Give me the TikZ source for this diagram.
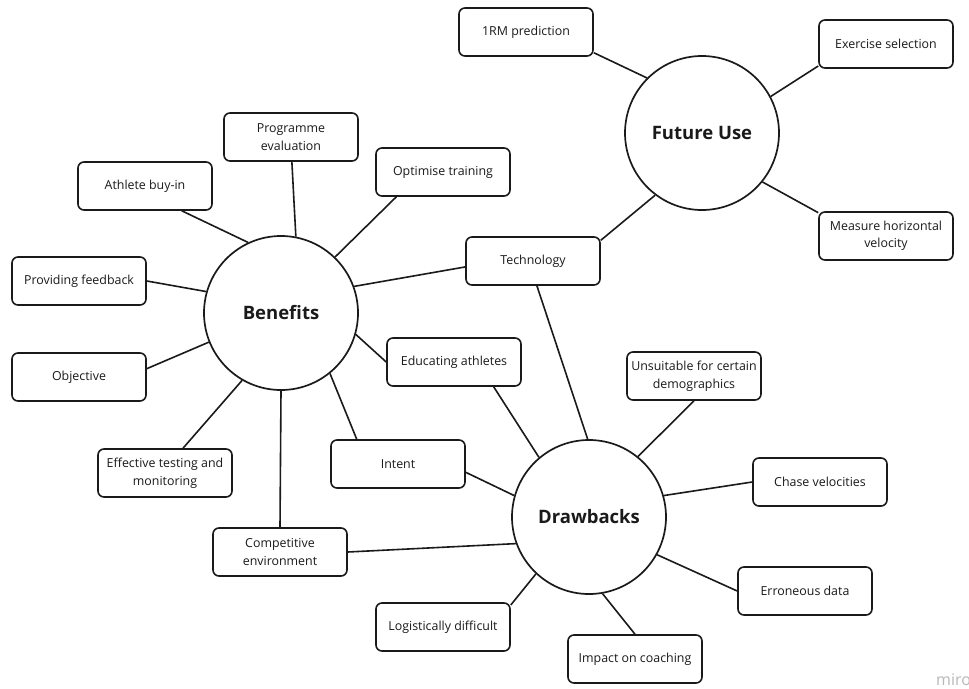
\documentclass[tikz,border=0pt]{standalone}
\usepackage{fontspec}
\setmainfont{Open Sans}
\definecolor{ink}{HTML}{1A1A1A}
\definecolor{wm}{HTML}{B8B8B8}
\begin{document}
\begin{tikzpicture}[x=1pt,y=-1pt,
  box/.style={draw=ink, rounded corners=6pt, line width=1.6pt, minimum width=134pt,
    minimum height=48pt, align=center, inner sep=0pt, text=ink,
    font=\fontsize{12.4}{17.5}\selectfont},
  hub/.style={draw=ink, circle, line width=1.7pt, minimum size=154pt, inner sep=0pt,
    text=ink, font=\fontsize{18.5}{22}\selectfont\bfseries},
  link/.style={draw=ink, line width=1.6pt}]
\useasboundingbox (0,0) rectangle (969,688);
\fill[white] (0,0) rectangle (969,688);

% hubs
\node[hub] (fut) at (702,133) {Future Use};
\node[hub] (ben) at (281,313) {Benefits};
\node[hub] (drw) at (589,517) {Drawbacks};

% boxes
\node[box] (rm)    at (526,32)  {1RM prediction};
\node[box] (exer)  at (886,44)  {Exercise selection};
\node[box] (meas)  at (886,236) {Measure horizontal\\velocity};
\node[box] (tech)  at (533,261) {Technology};
\node[box] (opt)   at (443,172) {Optimise training};
\node[box] (prog)  at (291,137) {Programme\\evaluation};
\node[box] (ath)   at (145,186) {Athlete buy-in};
\node[box] (feed)  at (79,281)  {Providing feedback};
\node[box] (obj)   at (79,377)  {Objective};
\node[box] (eff)   at (165,473) {Effective testing and\\monitoring};
\node[box] (comp)  at (280,552) {Competitive\\environment};
\node[box] (intent) at (398,464) {Intent};
\node[box] (edu)   at (454,362) {Educating athletes};
\node[box] (uns)   at (694,376) {Unsuitable for certain\\demographics};
\node[box] (chase) at (820,482) {Chase velocities};
\node[box] (err)   at (805,591) {Erroneous data};
\node[box] (logi)  at (443,627) {Logistically difficult};
\node[box] (imp)   at (635,659) {Impact on coaching};

% Future Use links
\draw[link] (fut.135.5) -- (rm.-17.5);
\draw[link] (fut.28) -- (exer.198.8);
\draw[link] (fut.-39) -- (meas.161.6);
\draw[link] (fut.233) -- (tech.17.4);

% Benefits links
\draw[link] (ben.115.6) -- (ath.-34);
\draw[link] (ben.79.6) -- (prog.-88);
\draw[link] (ben.46.5) -- (opt.208.5);
\draw[link] (ben.20.7) -- (tech.185.5);
\draw[link] (ben.164) -- (feed.east);
\draw[link] (ben.202.7) -- (obj.7.4);
\draw[link] (ben.240.5) -- (eff.54);
\draw[link] (ben.270) -- (comp.north);
\draw[link] (ben.-51.7) -- (intent.149.6);
\draw[link] (ben.-16) -- (edu.west);

% Drawbacks links
\draw[link] (drw.130) -- (edu.-32.5);
\draw[link] (drw.91) -- (tech.-81.7);
\draw[link] (drw.51.7) -- (uns.south);
\draw[link] (drw.164.6) -- (intent.-7);
\draw[link] (drw.16.7) -- (chase.west);
\draw[link] (drw.200) -- (comp.east);
\draw[link] (drw.-29) -- (err.west);
\draw[link] (drw.227) -- (logi.18.7);
\draw[link] (drw.-80) -- (imp.north);

% watermark
\node[anchor=base west, inner sep=0pt, text=wm, font=\fontsize{16}{16}\selectfont] (miro) at (936,685) {miro};
\end{tikzpicture}
\end{document}
